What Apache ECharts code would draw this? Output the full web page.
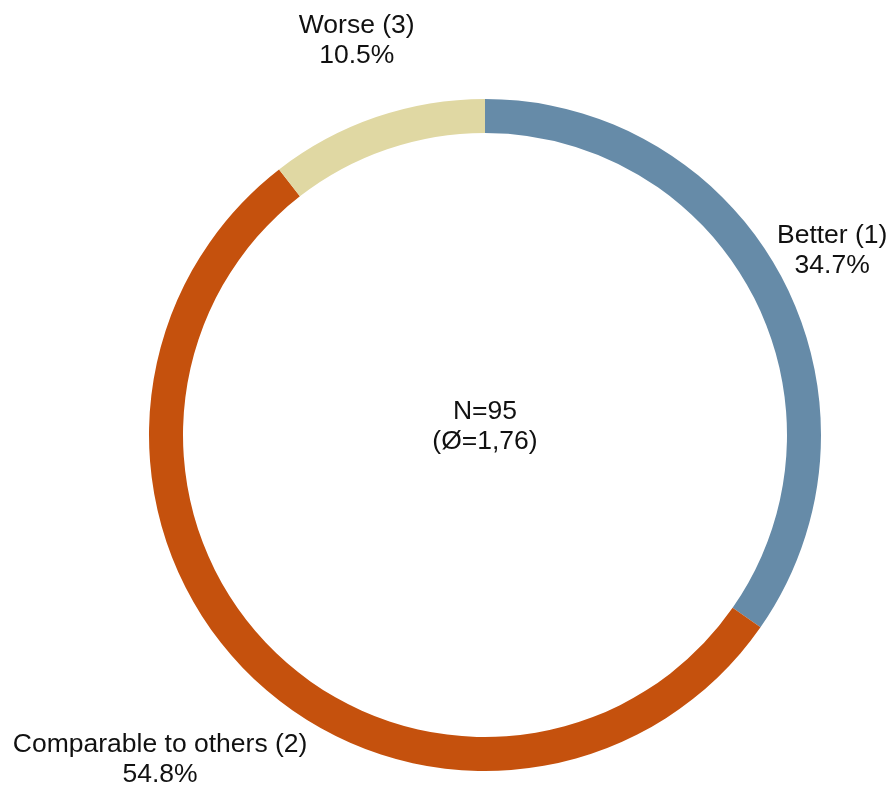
<!DOCTYPE html>
<html>
<head>
<meta charset="utf-8">
<script src="https://cdn.jsdelivr.net/npm/echarts@6/dist/echarts.min.js"></script>
<style>
  html, body { margin: 0; padding: 0; background: #fff; }
  #chart { width: 893px; height: 787px; }
</style>
</head>
<body>
<div id="chart"></div>
<script>
// data
const categories = ['Better (1)', 'Comparable to others (2)', 'Worse (3)'];
const shares = [34.7, 54.8, 10.5];
const colors = ['#668ba8', '#c5510d', '#e0d8a3'];
const totalN = 95;
const average = '1,76';

// layout
const cx = 485, cy = 435, rOuter = 336, rInner = 302;
const labelDist = [393, 459, 415];
const labelAngleShift = [-0.4, 1.5, 0.9];
const fontSize = 26.5, lineH = 30;

const total = shares.reduce((a, b) => a + b, 0);
const midAngles = [];
let acc = 0;
shares.forEach(v => {
  midAngles.push((acc + v / 2) / total * 360);
  acc += v;
});

const chart = echarts.init(document.getElementById('chart'));
chart.setOption({
  animation: false,
  textStyle: { fontFamily: 'Liberation Sans, Arial, sans-serif' },
  graphic: [{
    type: 'text',
    x: cx,
    y: cy - 8,
    style: {
      text: 'N=' + totalN + '\n(Ø=' + average + ')',
      fill: '#111',
      font: fontSize + 'px "Liberation Sans", Arial, sans-serif',
      lineHeight: lineH,
      align: 'center',
      verticalAlign: 'middle'
    }
  }],
  series: [{
    type: 'pie',
    center: [cx, cy],
    radius: [rInner, rOuter],
    startAngle: 90,
    clockwise: true,
    avoidLabelOverlap: false,
    label: {
      show: true,
      position: 'outside',
      formatter: p => p.name + '\n' + p.value.toFixed(1) + '%',
      color: '#111',
      fontSize: fontSize,
      lineHeight: lineH,
      fontFamily: 'Liberation Sans, Arial, sans-serif',
      align: 'center'
    },
    labelLine: { show: false },
    labelLayout: params => {
      const i = params.dataIndex;
      const a = (midAngles[i] + labelAngleShift[i]) * Math.PI / 180;
      return {
        x: cx + Math.sin(a) * labelDist[i],
        y: cy - Math.cos(a) * labelDist[i],
        align: 'center',
        verticalAlign: 'middle'
      };
    },
    data: categories.map((c, i) => ({
      name: c,
      value: shares[i],
      itemStyle: { color: colors[i] }
    }))
  }]
});
</script>
</body>
</html>
